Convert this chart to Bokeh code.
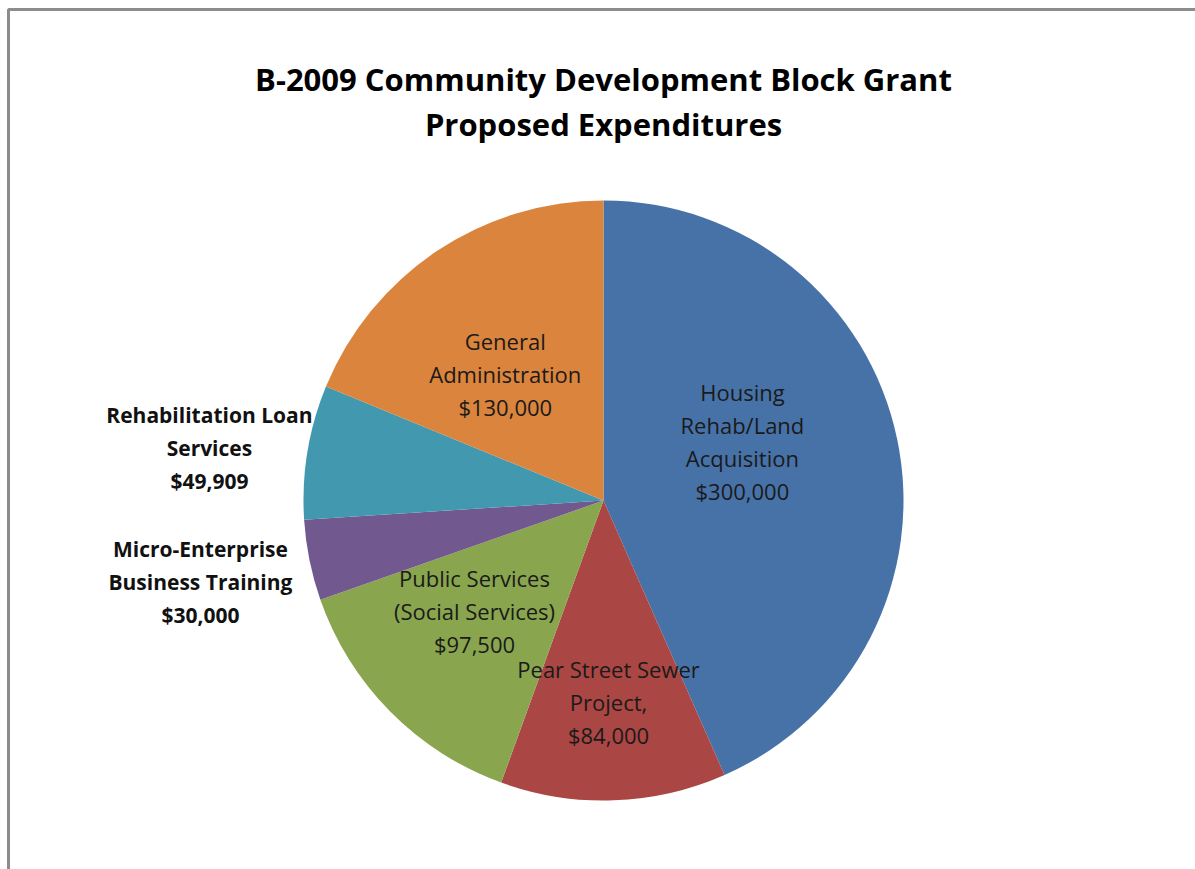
import math
from bokeh.plotting import figure
from bokeh.models import Range1d, ColumnDataSource
from bokeh.core.properties import value
from bokeh.embed import file_html
from bokeh.resources import INLINE

# ---- data ----
categories = ["Housing Rehab/Land Acquisition", "Pear Street Sewer Project",
              "Public Services (Social Services)", "Micro-Enterprise Business Training",
              "Rehabilitation Loan Services", "General Administration"]
amounts = [300000, 84000, 97500, 30000, 49909, 130000]
label_lines = [
    ["Housing", "Rehab/Land", "Acquisition", "$300,000"],
    ["Pear Street Sewer", "Project,", "$84,000"],
    ["Public Services", "(Social Services)", "$97,500"],
    ["Micro-Enterprise", "Business Training", "$30,000"],
    ["Rehabilitation Loan", "Services", "$49,909"],
    ["General", "Administration", "$130,000"],
]
title_lines = ["B-2009 Community Development Block Grant", "Proposed Expenditures"]

# ---- styles / layout ----
colors = ["#4672A8", "#AA4643", "#89A54E", "#71588F", "#4198AF", "#DB843D"]
label_rfrac = [0.503, 0.673, 0.567, 1.371, 1.325, 0.535]
label_angle_off = [-11.1, 0.5, 4.0, 0.0, -1.8, -3.9]  # degrees, clockwise
label_bold = [False, False, False, True, True, False]
W, H = 1195, 869
cx, cy = 603, H - 500
R = 300
line_gap = 33

p = figure(width=W, height=H, output_backend="svg", toolbar_location=None,
           x_range=Range1d(0, W), y_range=Range1d(0, H), min_border=0)
p.axis.visible = False
p.grid.visible = False
p.outline_line_color = None
p.background_fill_color = "white"
p.border_fill_color = "white"

total = sum(amounts)
starts, ends, mids = [], [], []
acc = 0.0
for a in amounts:
    s = acc / total * 2 * math.pi
    acc += a
    e = acc / total * 2 * math.pi
    starts.append(math.pi / 2 - s)
    ends.append(math.pi / 2 - e)
    mids.append((s + e) / 2)

src = ColumnDataSource(dict(x=[cx] * len(amounts), y=[cy] * len(amounts),
                            start=starts, end=ends, color=colors, cat=categories))
p.wedge(x="x", y="y", radius=R, start_angle="start", end_angle="end",
        direction="clock", fill_color="color", line_color=None, source=src)

# labels
for i, lines in enumerate(label_lines):
    ang = mids[i] + math.radians(label_angle_off[i])
    lx = cx + R * label_rfrac[i] * math.sin(ang)
    ly = cy + R * label_rfrac[i] * math.cos(ang)
    n = len(lines)
    ys = [ly + (n - 1) / 2 * line_gap - k * line_gap for k in range(n)]
    if label_bold[i]:
        p.text(x=[lx] * n, y=ys, text=lines, text_align="center", text_baseline="middle",
               text_font=value("Open Sans"), text_font_style="bold",
               text_font_size="21px", text_color="#111111")
    else:
        p.text(x=[lx] * n, y=ys, text=lines, text_align="center", text_baseline="middle",
               text_font=value("Open Sans"), text_font_size="22px", text_color="#1a1a1a")

# title
p.text(x=[cx, cx], y=[H - 78, H - 123], text=title_lines,
       text_align="center", text_baseline="middle",
       text_font=value("Open Sans"), text_font_style="bold",
       text_font_size="31px", text_color="#000000")

# chart-area border (only top and left visible in reference)
p.line(x=[8, 8, W], y=[0, H - 9, H - 9], line_color="#8c8c8c", line_width=3)

open("out.html", "w").write(file_html(p, INLINE))
